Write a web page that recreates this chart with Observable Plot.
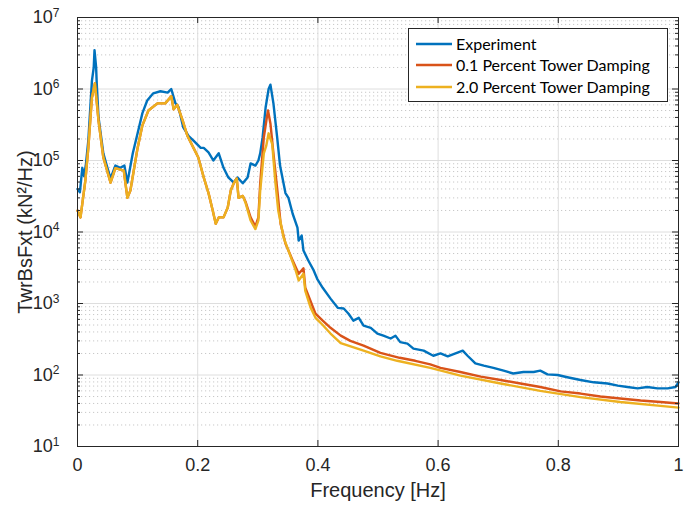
<!DOCTYPE html>
<html><head><meta charset="utf-8">
<script src="https://cdn.jsdelivr.net/npm/d3@7"></script>
<script src="https://cdn.jsdelivr.net/npm/@observablehq/plot@0.6"></script>
<style>
body{margin:0;background:#fff}
#chart{width:696px;height:506px}
</style>
</head><body><div id="chart"></div>
<script>
// ---- data ----
const seriesNames = ["Experiment", "0.1 Percent Tower Damping", "2.0 Percent Tower Damping"];
const seriesColors = ["#0072BD", "#D95319", "#EDB120"];

const expFreq = [0.000,0.004,0.008,0.011,0.014,0.018,0.024,0.027,0.0283,0.031,0.032,0.035,0.043,0.048,0.055,0.063,0.071,0.078,0.083,0.092,0.100,0.108,0.116,0.126,0.138,0.150,0.156,0.163,0.168,0.176,0.185,0.193,0.205,0.210,0.218,0.226,0.235,0.243,0.251,0.260,0.266,0.275,0.283,0.288,0.296,0.301,0.304,0.308,0.313,0.318,0.321,0.326,0.332,0.337,0.346,0.351,0.358,0.366,0.368,0.373,0.376,0.384,0.393,0.399,0.408,0.421,0.433,0.443,0.451,0.459,0.468,0.476,0.488,0.499,0.509,0.521,0.529,0.537,0.549,0.559,0.576,0.592,0.604,0.616,0.629,0.641,0.649,0.662,0.676,0.692,0.709,0.725,0.742,0.759,0.770,0.782,0.799,0.815,0.837,0.859,0.882,0.899,0.915,0.932,0.948,0.965,0.982,0.995,1.000];
const expPSD = [4.0e4,3.6e4,7.9e4,6.0e4,8.9e4,1.9e5,1.3e6,2.0e6,3.5e6,2.0e6,1.2e6,4.0e5,1.26e5,8.9e4,5.6e4,8.5e4,7.9e4,8.5e4,4.9e4,1.26e5,2.4e5,4.6e5,6.9e5,8.7e5,9.3e5,8.9e5,1.0e6,6.3e5,5.6e5,2.9e5,2.2e5,1.9e5,1.5e5,1.5e5,1.3e5,1.0e5,1.26e5,7.9e4,5.8e4,4.9e4,5.8e4,4.8e4,5.8e4,9.1e4,8.5e4,1.0e5,1.26e5,2.1e5,5.5e5,1.0e6,1.15e6,6.3e5,2.2e5,8.5e4,3.5e4,3.0e4,1.8e4,1.15e4,7.6e3,8.9e3,5.5e3,4.0e3,2.9e3,2.2e3,1.66e3,1170,870,850,720,575,630,490,457,380,355,324,355,288,275,234,219,186,200,182,200,219,186,145,135,126,115,105,110,110,115,102,100,93,85,79,76,71,68,65,68,65,65,68,79];

const lowFreq = [0.000,0.005,0.013,0.018,0.024,0.029,0.035,0.043,0.055,0.063,0.077,0.083,0.088,0.100,0.108,0.118,0.133,0.146,0.156,0.160,0.166,0.175,0.183,0.193,0.201,0.210,0.218,0.225,0.230,0.235,0.243,0.250,0.255,0.260,0.265,0.268,0.275,0.280,0.288,0.296,0.301,0.304,0.310,0.315,0.317,0.321,0.326,0.333,0.338,0.346,0.358,0.368,0.376,0.379,0.396,0.408,0.421,0.438,0.454,0.476,0.504,0.536,0.562,0.587,0.604,0.637,0.671,0.704,0.737,0.770,0.804,0.837,0.870,0.903,0.937,0.970,1.000];
const lowPSD = [2.0e4,1.6e4,5.2e4,1.5e5,7.6e5,1.2e6,3.6e5,1.1e5,4.9e4,7.8e4,7.2e4,3.0e4,3.8e4,1.5e5,3.1e5,5.0e5,6.3e5,6.3e5,7.9e5,5.2e5,6.0e5,3.6e5,2.2e5,1.5e5,1.1e5,5.8e4,3.5e4,2.0e4,1.3e4,1.6e4,1.6e4,2.2e4,3.8e4,4.8e4,5.6e4,3.0e4,3.2e4,2.6e4,1.6e4,1.2e4,1.6e4,4.8e4,2.1e5,4.0e5,5.0e5,3.3e5,1.26e5,3.5e4,1.3e4,6.9e3,4.0e3,2.6e3,3.1e3,1.66e3,720,575,457,355,300,257,204,174,158,141,126,110,95,85,76,68,59,55,50,47,44,42,40];

const highFreq = [0.000,0.005,0.013,0.018,0.024,0.029,0.035,0.043,0.055,0.063,0.077,0.083,0.088,0.100,0.108,0.118,0.133,0.146,0.156,0.160,0.166,0.175,0.183,0.193,0.201,0.210,0.218,0.225,0.230,0.235,0.243,0.250,0.255,0.260,0.265,0.268,0.275,0.280,0.288,0.296,0.301,0.304,0.310,0.314,0.318,0.324,0.329,0.334,0.343,0.351,0.363,0.368,0.376,0.379,0.388,0.396,0.408,0.421,0.438,0.476,0.504,0.532,0.587,0.637,0.704,0.770,0.837,0.903,0.970,1.000];
const highPSD = [2.0e4,1.6e4,5.2e4,1.5e5,7.6e5,1.2e6,3.6e5,1.1e5,4.9e4,7.8e4,7.2e4,3.0e4,3.8e4,1.5e5,3.1e5,5.0e5,6.3e5,6.3e5,7.9e5,5.2e5,6.0e5,3.6e5,2.2e5,1.5e5,1.1e5,5.8e4,3.5e4,2.0e4,1.3e4,1.6e4,1.6e4,2.2e4,3.8e4,4.8e4,5.6e4,3.0e4,3.2e4,2.5e4,1.45e4,1.1e4,1.45e4,3.8e4,1.26e5,1.6e5,2.4e5,1.7e5,5.2e4,2.0e4,8.3e3,5.5e3,2.9e3,2.1e3,2.6e3,1.5e3,870,630,500,380,280,220,182,158,126,98,76,60,49,42,37,35];

const xTicks = [0, 0.2, 0.4, 0.6, 0.8, 1];
const xTickLabels = ["0", "0.2", "0.4", "0.6", "0.8", "1"];
const yTicks = [1e1, 1e2, 1e3, 1e4, 1e5, 1e6, 1e7];
const yExponents = ["1", "2", "3", "4", "5", "6", "7"];
const xLabel = "Frequency [Hz]";
const yLabel = "TwrBsFxt (kN²/Hz)";

// ---- build table ----
const rows = [];
function addSeries(name, fs, vs) { fs.forEach((f, i) => rows.push({series: name, f, v: vs[i]})); }
addSeries(seriesNames[0], expFreq, expPSD);
addSeries(seriesNames[1], lowFreq, lowPSD);
addSeries(seriesNames[2], highFreq, highPSD);

const minorY = [];
for (let e = 1; e < 7; e++) for (let k = 2; k <= 9; k++) minorY.push(k * Math.pow(10, e));

const W = 696, H = 506, mL = 77, mR = 18, mT = 17, mB = 60;
const innerW = W - mL - mR, innerH = H - mT - mB;
const decadePx = innerH / 6;
const majLen = 6, minLen = 3;
const fx = len => len / innerW;
const fy = len => Math.pow(10, len / decadePx);

const axisColor = "#262626";
const font = "'Liberation Sans', Arial, Helvetica, sans-serif";

const chart = Plot.plot({
  width: W, height: H,
  marginLeft: mL, marginRight: mR, marginTop: mT, marginBottom: mB,
  style: {fontFamily: font, fontSize: "18px", color: axisColor, background: "#fff", overflow: "visible"},
  x: {domain: [0, 1]},
  y: {type: "log", domain: [10, 1e7]},
  color: {domain: seriesNames, range: seriesColors},
  marks: [
    Plot.ruleY(minorY, {stroke: "#c8c8c8", strokeDasharray: "1.2,2.8", strokeWidth: 1}),
    Plot.ruleX(xTicks, {stroke: "#dedede", strokeWidth: 1}),
    Plot.ruleY(yTicks, {stroke: "#dedede", strokeWidth: 1}),
    Plot.line(rows, {x: "f", y: "v", z: "series", stroke: "series", strokeWidth: 2.4, strokeLinejoin: "round"}),
    Plot.ruleY(yTicks, {y: d => d, x1: 0, x2: fx(majLen), stroke: axisColor}),
    Plot.ruleY(yTicks, {y: d => d, x1: 1 - fx(majLen), x2: 1, stroke: axisColor}),
    Plot.ruleY(minorY, {y: d => d, x1: 0, x2: fx(minLen), stroke: axisColor}),
    Plot.ruleY(minorY, {y: d => d, x1: 1 - fx(minLen), x2: 1, stroke: axisColor}),
    Plot.ruleX(xTicks, {x: d => d, y1: 10, y2: 10 * fy(majLen), stroke: axisColor}),
    Plot.ruleX(xTicks, {x: d => d, y1: 1e7 / fy(majLen), y2: 1e7, stroke: axisColor}),
    Plot.axisX(xTicks, {tickSize: 0, tickPadding: 12, fontSize: 18, tickFormat: (d) => xTickLabels[xTicks.indexOf(d)],
      label: xLabel, labelAnchor: "center", labelArrow: "none", labelOffset: 50}),
    Plot.axisY(yTicks, {tickSize: 0, tickPadding: 18, fontSize: 18, tickFormat: d => "10",
      label: yLabel, labelAnchor: "center", labelArrow: "none", labelOffset: 60}),
    Plot.frame({stroke: axisColor, strokeWidth: 1})
  ]
});
document.getElementById("chart").appendChild(chart);

const svg = d3.select(chart);
svg.selectAll('g[aria-label="x-axis label"] text, g[aria-label="y-axis label"] text')
  .style("font-size", "20px");

// superscript exponents for log tick labels
svg.selectAll('g[aria-label="y-axis tick label"] text').each(function(d, i) {
  const t = d3.select(this);
  t.text(null);
  t.append("tspan").text("10");
  t.append("tspan").attr("dy", "-0.55em").style("font-size", "12px").text(yExponents[i]);
});

// legend (inside the axes, top-right)
const lg = svg.append("g").attr("aria-label", "legend").attr("text-anchor", "start");
const lx = 408, ly = 28, lw = 259, lh = 73;
lg.append("rect").attr("x", lx + 0.5).attr("y", ly + 0.5).attr("width", lw).attr("height", lh)
  .attr("fill", "#fff").attr("stroke", axisColor).attr("stroke-width", 1);
const rowY = [44, 65, 87];
seriesNames.forEach((name, i) => {
  lg.append("line").attr("x1", 416).attr("x2", 452).attr("y1", rowY[i]).attr("y2", rowY[i])
    .attr("stroke", seriesColors[i]).attr("stroke-width", 2.4);
  lg.append("text").attr("x", 456).attr("y", rowY[i]).attr("dy", "0.36em")
    .attr("text-anchor", "start")
    .style("font-family", "Lato, 'Open Sans', sans-serif").style("font-size", "16px")
    .attr("fill", "#000").text(name);
});
</script>
</body></html>
